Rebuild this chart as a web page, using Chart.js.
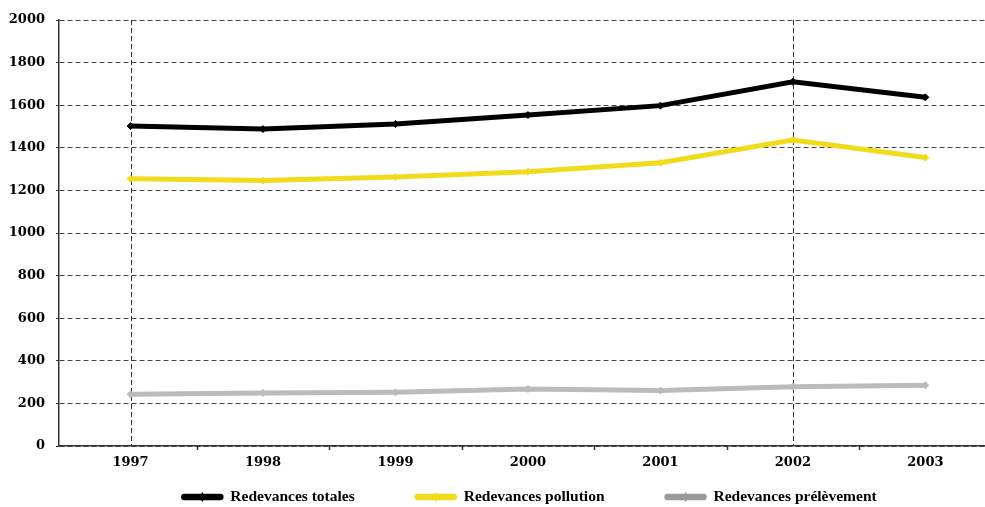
<!DOCTYPE html>
<html>
<head>
<meta charset="utf-8">
<script src="https://cdn.jsdelivr.net/npm/chart.js@4/dist/chart.umd.min.js"></script>
<style>
  html, body { margin: 0; padding: 0; background: #fff; overflow: hidden; }
  #wrap { width: 985px; height: 507px; position: relative; }
</style>
</head>
<body>
<div id="wrap"><canvas id="c" width="985" height="507"></canvas></div>
<script>
// Années et séries (en millions d'euros)
const years = ['1997', '1998', '1999', '2000', '2001', '2002', '2003'];
const totales = [1502, 1488, 1512, 1554, 1598, 1710, 1637];
const pollution = [1255, 1246, 1263, 1288, 1330, 1437, 1354];
const prelevement = [243, 249, 252, 268, 260, 278, 285];
const yTicks = [0, 200, 400, 600, 800, 1000, 1200, 1400, 1600, 1800, 2000];
// Années repérées par un trait vertical pointillé
const markedYears = ['1997', '2002'];

const serif = '"DejaVu Serif", "Liberation Serif", serif';

// Traits verticaux pointillés + petites graduations entre les années
const yearMarks = {
  id: 'yearMarks',
  beforeDatasetsDraw(chart) {
    const { ctx, chartArea, scales: { x } } = chart;
    ctx.save();
    ctx.strokeStyle = '#333';
    ctx.lineWidth = 1;
    ctx.setLineDash([5, 3]);
    markedYears.forEach(yr => {
      const px = Math.round(x.getPixelForValue(years.indexOf(yr))) + 0.5;
      ctx.beginPath();
      ctx.moveTo(px, chartArea.top);
      ctx.lineTo(px, chartArea.bottom);
      ctx.stroke();
    });
    ctx.setLineDash([]);
    ctx.lineWidth = 1.5;
    for (let i = 0; i < years.length; i++) {
      const px = Math.round(x.getPixelForValue(i + 0.5)) + 0.5;
      if (px > chartArea.right) continue;
      ctx.beginPath();
      ctx.moveTo(px, chartArea.bottom);
      ctx.lineTo(px, chartArea.bottom + 4);
      ctx.stroke();
    }
    ctx.restore();
  }
};

// Légende : trait épais avec losange, puis libellé
const seriesLegend = {
  id: 'seriesLegend',
  afterDraw(chart) {
    const { ctx, chartArea } = chart;
    const sets = chart.data.datasets;
    const lineW = 42, gapText = 7, gapItem = 60;
    ctx.save();
    ctx.font = 'bold 15.5px "Liberation Serif", serif';
    ctx.textBaseline = 'middle';
    const widths = sets.map(d => lineW + gapText + ctx.measureText(d.label).width);
    const total = widths.reduce((a, b) => a + b, 0) + gapItem * (sets.length - 1);
    let xPos = (chartArea.left + chartArea.right) / 2 + 7 - total / 2;
    const yPos = 497;
    sets.forEach((d, i) => {
      const col = d.legendColor || d.borderColor;
      ctx.strokeStyle = col;
      ctx.lineWidth = 6.5;
      ctx.lineCap = 'round';
      ctx.beginPath();
      ctx.moveTo(xPos + 3, yPos);
      ctx.lineTo(xPos + lineW - 3, yPos);
      ctx.stroke();
      ctx.fillStyle = col;
      const cx = xPos + lineW / 2;
      ctx.beginPath();
      ctx.moveTo(cx, yPos - 5);
      ctx.lineTo(cx + 3, yPos);
      ctx.lineTo(cx, yPos + 5);
      ctx.lineTo(cx - 3, yPos);
      ctx.closePath();
      ctx.fill();
      ctx.fillStyle = '#000';
      ctx.fillText(d.label, xPos + lineW + gapText, yPos);
      xPos += widths[i] + gapItem;
    });
    ctx.restore();
  }
};

function series(label, data, color, legendColor) {
  return {
    label,
    data: data.map((v, j) => ({ x: j, y: v })),
    borderColor: color,
    backgroundColor: color,
    legendColor: legendColor || color,
    borderWidth: 5,
    pointStyle: 'rectRot',
    pointRadius: 3.5,
    pointBorderWidth: 1,
    pointBackgroundColor: color,
    pointBorderColor: color,
    tension: 0,
    fill: false
  };
}

new Chart(document.getElementById('c'), {
  type: 'line',
  data: {
    labels: years,
    datasets: [
      series('Redevances totales', totales, '#000000'),
      series('Redevances pollution', pollution, '#f0dc1c'),
      series('Redevances prélèvement', prelevement, '#bbbbbb', '#999999')
    ]
  },
  options: {
    responsive: false,
    animation: false,
    layout: { autoPadding: false, padding: { top: 20, right: 0, left: 0, bottom: 36 } },
    plugins: {
      tooltip: { enabled: false },
      legend: { display: false }
    },
    scales: {
      x: {
        type: 'linear',
        min: -0.54,
        max: 6.45,
        afterBuildTicks(scale) { scale.ticks = years.map((_, i) => ({ value: i })); },
        afterFit(scale) { scale.height = 25; },
        grid: { display: false },
        border: { display: true, color: '#333', width: 1.5 },
        ticks: {
          color: '#000',
          padding: 1,
          maxRotation: 0,
          font: { family: serif, size: 13, weight: 'bold' },
          callback: v => years[v]
        }
      },
      y: {
        min: 0,
        max: 2000,
        afterBuildTicks(scale) { scale.ticks = yTicks.map(v => ({ value: v })); },
        afterFit(scale) { scale.width = 59; },
        grid: {
          color: '#444',
          lineWidth: 1,
          drawTicks: true,
          tickLength: 3,
          tickColor: '#333',
          tickBorderDash: []
        },
        border: { display: true, color: '#333', width: 1.5, dash: [5, 3] },
        ticks: {
          color: '#000',
          padding: 11,
          font: { family: serif, size: 13, weight: 'bold' },
          callback: v => String(v)
        }
      }
    }
  },
  plugins: [yearMarks, seriesLegend]
});
</script>
</body>
</html>
